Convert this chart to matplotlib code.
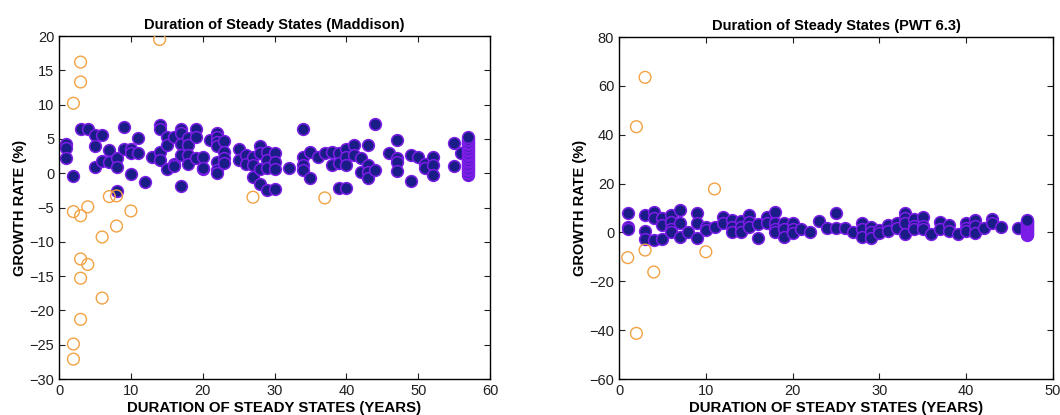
import numpy as np
import matplotlib
matplotlib.use("Agg")
import matplotlib.pyplot as plt

# Maddison panel: steady states (x = duration in years, y = growth rate %)
mad_x = [1, 1, 1, 2, 3, 4, 5, 5, 5, 6, 6, 7, 7, 8, 8, 8, 9, 9, 10, 10, 10,
         11, 11, 12, 13, 14, 14, 14, 14, 15, 15, 15, 16, 16, 16,
         17, 17, 17, 17, 17, 18, 18, 18, 18, 19, 19, 19, 20, 20, 20,
         21, 22, 22, 22, 22, 22, 22, 22, 23, 23, 23, 23, 25, 25, 26, 26,
         27, 27, 27, 28, 28, 28, 28, 29, 29, 29, 29, 30, 30, 30, 30,
         32, 34, 34, 34, 34, 35, 35, 36, 37, 38, 38, 39, 39, 39,
         40, 40, 40, 40, 41, 41, 42, 42, 43, 43, 43, 43, 44, 44,
         46, 47, 47, 47, 47, 49, 49, 50, 51, 51, 52, 52, 52, 55, 55, 56]
mad_y = [4.2, 3.7, 2.2, -0.4, 6.4, 6.5, 5.6, 4.0, 0.9, 5.6, 1.8, 3.4, 1.7,
         2.2, 0.9, -2.6, 6.7, 3.5, 3.6, 3.0, -0.1,
         5.2, 3.0, -1.3, 2.4, 7.0, 6.4, 3.1, 1.9, 5.3, 4.1, 0.6, 5.3, 1.4, 1.0,
         6.5, 5.8, 4.3, 2.7, -1.9, 5.2, 4.1, 2.7, 1.3, 6.5, 5.3, 2.2, 0.6, 2.4, 0.7,
         4.9, 5.9, 5.3, 4.6, 3.9, 1.7, 0.5, 0.0, 4.7, 3.1, 2.2, 1.5, 3.6, 1.9, 2.6, 1.4,
         2.4, 1.2, -0.5, 4.0, 3.0, 0.6, -1.5, 3.1, 2.0, 0.8, -2.4, 2.9, 1.7, 0.6, -2.3,
         0.7, 6.5, 2.4, 1.2, 0.5, 3.1, -0.7, 2.4, 2.9, 3.1, 1.2, 2.9, 1.5, -2.2,
         3.6, 2.4, 1.2, -2.2, 4.1, 2.6, 2.2, 0.2, 4.1, 1.2, 0.2, -0.7, 7.2, 0.5,
         2.9, 4.8, 2.2, 1.7, 0.3, 2.6, -1.1, 2.3, 1.4, 0.8, 2.4, 1.2, -0.2, 4.4, 1.0, 3.0]
# long-lived steady states stacked at the end of the sample
mad_end_x = [57] * 28
mad_end_y = [-0.2, 0.0, 0.2, 0.4, 0.6, 0.8, 1.0, 1.2, 1.4, 1.6, 1.8, 2.0, 2.2, 2.4,
             2.6, 2.8, 3.0, 3.2, 3.4, 3.6, 3.8, 4.0, 4.2, 4.4, 4.6, 4.8, 5.0, 5.3]

# Maddison outliers (hollow orange)
mad_out_x = [14, 3, 3, 2, 2, 3, 4, 7, 8, 8, 10, 27, 37, 6, 3, 4, 3, 6, 3, 2, 2]
mad_out_y = [19.5, 16.2, 13.3, 10.2, -5.6, -6.2, -4.9, -3.4, -3.3, -7.7, -5.5,
             -3.5, -3.6, -9.3, -12.5, -13.3, -15.3, -18.2, -21.3, -24.9, -27.1]

# PWT 6.3 panel
pwt_x = [1, 1, 1, 3, 3, 3, 4, 4, 4, 5, 5, 5, 6, 6, 6, 6, 7, 7, 7, 8,
         9, 9, 9, 10, 10, 11, 12, 12, 13, 13, 13, 14, 14, 14, 15, 15, 15,
         16, 16, 17, 17, 18, 18, 18, 18, 19, 19, 19, 20, 20, 20, 21, 22, 23,
         24, 25, 25, 26, 27, 28, 28, 28, 29, 29, 29, 30, 30, 31, 31, 32, 32,
         33, 33, 33, 33, 34, 34, 34, 35, 35, 35, 36, 37, 37, 38, 38, 39,
         40, 40, 40, 41, 41, 41, 42, 43, 43, 44, 46]
pwt_y = [8.1, 2.4, 1.3, 7.1, 0.7, -2.8, 8.5, 5.8, -3.0, 5.8, 3.0, -2.7,
         7.1, 4.4, 1.6, 0.3, 9.2, 4.0, -2.0, 0.1, 8.1, 4.0, -2.2, 2.4, 1.0, 2.4,
         6.4, 4.0, 5.1, 2.4, 0.3, 4.8, 2.4, 0.1, 7.1, 4.4, 2.4, 3.3, -2.2, 6.4, 4.0,
         8.5, 4.0, 1.6, 0.3, 4.0, 1.6, -1.7, 3.7, 1.6, -0.4, 1.4, 0.3, 4.5,
         1.7, 7.8, 1.7, 1.7, 0.3, 3.7, 1.6, -1.7, 2.4, 0.2, -2.4, 1.0, -0.4, 3.0, 0.5,
         4.0, 1.7, 7.8, 5.8, 3.7, -0.7, 5.4, 2.7, 1.6, 6.4, 2.7, 1.6, -0.8, 4.4, 1.6,
         3.0, 0.5, -0.8, 3.7, 2.0, 0.5, 5.1, 2.7, -0.4, 1.7, 5.4, 3.7, 2.4, 1.7]
pwt_end_x = [47] * 16
pwt_end_y = [-1.0, -0.6, -0.2, 0.2, 0.6, 1.0, 1.4, 1.8, 2.2, 2.6, 3.0, 3.4,
             3.8, 4.2, 4.6, 5.2]

pwt_out_x = [3, 2, 11, 3, 10, 1, 4, 2]
pwt_out_y = [63.5, 43.3, 17.8, -7.2, -7.9, -10.3, -16.2, -41.3]

navy = "#1a1c88"
purple = "#7c1de8"
orange = "#f2a244"

plt.rcParams['font.family'] = ['Liberation Sans', 'DejaVu Sans']

fig = plt.figure(figsize=(10.6, 4.15), dpi=100)
ax1 = fig.add_axes([0.0557, 0.0867, 0.4066, 0.8265])
ax2 = fig.add_axes([0.584, 0.0867, 0.4094, 0.824])


def draw_panel(ax, x, y, end_x, end_y, out_x, out_y, title, xlim, ylim, xticks, yticks):
    ax.scatter(x + end_x, y + end_y, s=72, c=navy, edgecolors=purple,
               linewidths=1.1, zorder=2)
    ax.scatter(out_x, out_y, s=72, facecolors="none", edgecolors=orange,
               linewidths=1.0, zorder=3)
    ax.set_xlim(*xlim)
    ax.set_ylim(*ylim)
    ax.set_xticks(xticks)
    ax.set_yticks(yticks)
    ax.tick_params(direction="in", top=True, right=True, length=4,
                   labelsize=10.5, width=0.8, colors="#202020")
    for sp in ax.spines.values():
        sp.set_linewidth(1.0)
    ax.set_title(title, fontsize=10.5, fontweight="bold", pad=5)
    ax.set_xlabel("DURATION OF STEADY STATES (YEARS)", fontsize=10.8,
                  fontweight="bold", labelpad=2)
    ax.set_ylabel("GROWTH RATE (%)", fontsize=10.5, fontweight="bold", labelpad=2)


draw_panel(ax1, mad_x, mad_y, mad_end_x, mad_end_y, mad_out_x, mad_out_y,
           "Duration of Steady States (Maddison)", (0, 60), (-30, 20),
           range(0, 61, 10), range(-30, 21, 5))
draw_panel(ax2, pwt_x, pwt_y, pwt_end_x, pwt_end_y, pwt_out_x, pwt_out_y,
           "Duration of Steady States (PWT 6.3)", (0, 50), (-60, 80),
           range(0, 51, 10), range(-60, 81, 20))

fig.savefig("out.png", dpi=100)
